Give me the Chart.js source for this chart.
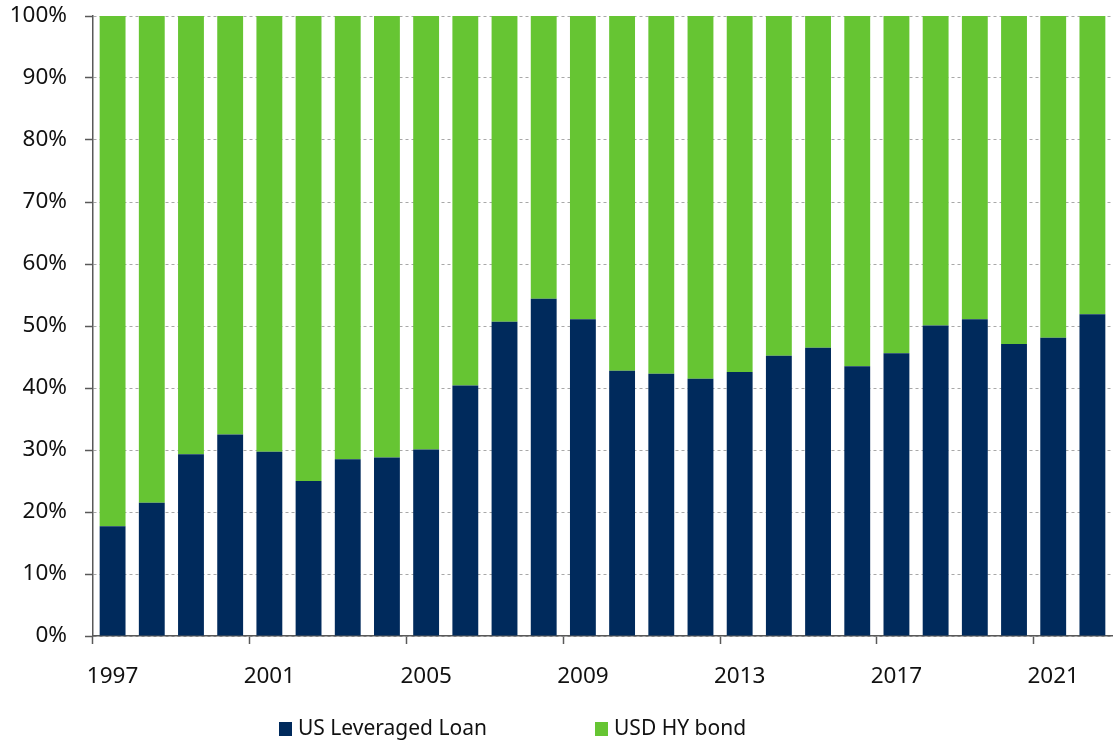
<!DOCTYPE html>
<html>
<head>
<meta charset="utf-8">
<script src="https://cdn.jsdelivr.net/npm/chart.js@4"></script>
<style>
  html, body { margin: 0; padding: 0; background: #fff; }
  #wrap { width: 1116px; height: 742px; }
</style>
</head>
<body>
<div id="wrap"><canvas id="c" width="1116" height="742"></canvas></div>
<script>
// Share of issuance by year (%)
const years = ['1997','1998','1999','2000','2001','2002','2003','2004','2005','2006','2007','2008','2009',
               '2010','2011','2012','2013','2014','2015','2016','2017','2018','2019','2020','2021','2022'];
const leveragedLoan = [17.7, 21.5, 29.3, 32.5, 29.7, 25.0, 28.5, 28.8, 30.1, 40.4, 50.7, 54.4, 51.1,
                       42.8, 42.3, 41.5, 42.6, 45.2, 46.5, 43.5, 45.6, 50.1, 51.1, 47.1, 48.1, 51.9];
const hyBond = [82.3, 78.5, 70.7, 67.5, 70.3, 75.0, 71.5, 71.2, 69.9, 59.6, 49.3, 45.6, 48.9,
                57.2, 57.7, 58.5, 57.4, 54.8, 53.5, 56.5, 54.4, 49.9, 48.9, 52.9, 51.9, 48.1];
const yTicks = [0, 10, 20, 30, 40, 50, 60, 70, 80, 90, 100];

const NAVY = '#002A5C';
const GREEN = '#66C533';
const AXIS = '#595959';
const GRID = '#A8A8A8';
const TEXT = '#111111';
const FONT = "'Noto Sans', sans-serif";

Chart.defaults.font.family = FONT;
Chart.defaults.color = TEXT;

// Legend drawn as a simple row of square swatches under the axis
const bottomLegend = {
  id: 'bottomLegend',
  afterDraw(chart) {
    const ctx = chart.ctx;
    const starts = [279, 595];
    ctx.save();
    ctx.font = "21px " + FONT;
    ctx.textBaseline = 'middle';
    ctx.textAlign = 'left';
    chart.data.datasets.forEach((ds, i) => {
      const x = starts[i];
      ctx.fillStyle = ds.backgroundColor;
      ctx.fillRect(x, 722, 13, 14);
      ctx.fillStyle = TEXT;
      ctx.fillText(ds.label, x + 19, 729);
    });
    ctx.restore();
  }
};

new Chart(document.getElementById('c'), {
  type: 'bar',
  data: {
    labels: years,
    datasets: [
      { label: 'US Leveraged Loan', data: leveragedLoan, backgroundColor: NAVY,
        categoryPercentage: 1.0, barPercentage: 0.66 },
      { label: 'USD HY bond', data: hyBond, backgroundColor: GREEN,
        categoryPercentage: 1.0, barPercentage: 0.66 }
    ]
  },
  options: {
    responsive: false,
    animation: false,
    events: [],
    layout: { padding: { top: 16, right: 4, left: 0, bottom: 0 } },
    plugins: {
      legend: { display: false },
      tooltip: { enabled: false }
    },
    scales: {
      x: {
        stacked: true,
        offset: true,
        afterFit(scale) { scale.height = 106; },
        border: { display: true, color: AXIS, width: 1.5 },
        grid: {
          offset: true,
          drawOnChartArea: false,
          drawTicks: true,
          tickLength: 8,
          tickWidth: 1.5,
          color: (ctx) => (ctx.index % 4 === 0 ? AXIS : 'rgba(0,0,0,0)'),
          tickColor: (ctx) => (ctx.index % 4 === 0 ? AXIS : 'rgba(0,0,0,0)')
        },
        ticks: {
          autoSkip: false,
          maxRotation: 0,
          minRotation: 0,
          padding: 19,
          font: { size: 22.5 },
          color: TEXT,
          callback(value, index) { return index % 4 === 0 ? years[index] : ''; }
        }
      },
      y: {
        stacked: true,
        min: 0,
        max: 100,
        afterFit(scale) {
          scale.width = 93;
          scale.paddingTop = 14;
          scale.paddingBottom = 14;
        },
        afterBuildTicks(scale) { scale.ticks = yTicks.map(v => ({ value: v })); },
        border: { display: true, color: AXIS, width: 1.5, dash: [3, 3] },
        grid: {
          color: GRID,
          lineWidth: 1,
          drawTicks: true,
          tickLength: 8,
          tickColor: AXIS,
          tickWidth: 1.5
        },
        ticks: {
          padding: 18,
          font: { size: 22.5 },
          color: TEXT,
          callback(value) { return value + '%'; }
        }
      }
    }
  },
  plugins: [bottomLegend]
});
</script>
</body>
</html>
